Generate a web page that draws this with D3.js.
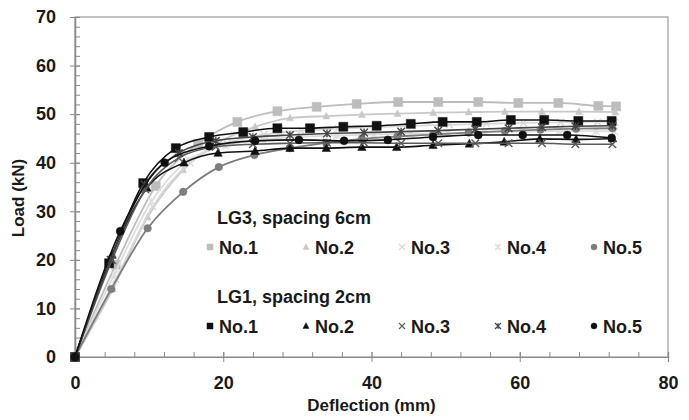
<!DOCTYPE html>
<html>
<head>
<meta charset="utf-8">
<script src="https://cdn.jsdelivr.net/npm/d3@7"></script>
<style>
  body { margin: 0; background: #fff; }
  svg text { font-family: "Liberation Sans", Arial, sans-serif; font-weight: bold; fill: #1a1a1a; }
</style>
</head>
<body>
<svg id="chart" width="689" height="420"></svg>
<script>
// load-deflection curves: [deflection mm, load kN]
var lg3No1 = [[0,0],[5.5,19],[10.9,35.2],[16.6,43.9],[21.9,48.4],[27.3,50.6],[32.6,51.5],[38,52.1],[43.6,52.5],[49,52.5],[54.4,52.5],[59.8,52.3],[65.2,52.3],[70.6,51.7],[73,51.6]];
var lg3No2 = [[0,0],[5.1,14],[9.8,28.8],[14.6,38.5],[19.5,44.3],[24.3,47.4],[29,49.2],[33.9,49.6],[38.7,49.9],[43.5,50.1],[48.3,50.3],[53.1,50.4],[58,50.5],[63,50.5],[68,50.5],[72.9,50.4]];
var lg3No3 = [[0,0],[5.5,16],[10.5,31],[15.5,40],[20.5,44],[25.5,45.8],[30.5,46.6],[35.5,47],[40.5,47.3],[45.5,47.6],[50.5,47.8],[55.5,48],[60.5,48.2],[65.5,48.3],[70.5,48.4],[72.8,48.4]];
var lg3No4 = [[0,0],[5.3,17],[10.3,32],[15.3,40.5],[20.3,43.5],[25.3,44.8],[30.3,45.3],[35.3,45.6],[40.3,45.8],[45.3,46],[50.3,46.1],[55.3,46.3],[60.3,46.4],[65.3,46.5],[70.3,46.5],[72.8,46.4]];
var lg3No5 = [[0,0],[4.9,14],[9.8,26.5],[14.6,34],[19.4,39.1],[24.2,41.6],[29,43],[33.9,44.1],[38.7,44.9],[43.5,45.4],[48.3,45.8],[53.1,46.2],[58,46.5],[62.8,46.8],[67.6,47],[72.5,47.1]];

var lg1No1 = [[0,0],[4.6,19.3],[9.2,35.8],[13.6,43],[18.1,45.3],[22.7,46.3],[27.3,47.1],[31.7,47.1],[36.2,47.4],[40.7,47.6],[45.3,48],[49.6,48.4],[54.2,48.4],[58.8,48.8],[63.3,48.8],[67.9,48.6],[72.4,48.6]];
var lg1No2 = [[0,0],[5,21],[9.7,34.8],[14.7,40],[19.3,42],[24.3,42.4],[29,43],[33.9,43],[38.7,43.2],[43.4,43.2],[48.3,43.6],[53.2,43.9],[57.9,44.3],[62.7,44.9],[67.6,44.8],[72.5,45]];
var lg1No3 = [[0,0],[5,20],[9.5,34.5],[14,41],[19,43.3],[24,43.8],[29,44],[34,44.1],[39,44.1],[44,44],[49,44],[54,44],[58.5,44],[63,44],[67.5,43.8],[72.5,43.8]];
var lg1No4 = [[0,0],[4.8,20],[9.4,35.5],[14,42],[19,44.5],[24,45.3],[29,45.7],[34,46],[39,46.2],[44,46.4],[49,46.6],[54,46.9],[58.5,47.1],[63,47.3],[67.5,47.5],[72.5,47.6]];
var lg1No5 = [[0,0],[6.1,25.9],[12.1,40],[18.1,43.4],[24.3,44.5],[30.2,44.7],[36.3,44.5],[42.2,44.7],[48.3,45.3],[54.4,45.7],[60.4,45.7],[66.4,45.7],[72.4,45.1]];

var seriesNames = ["No.1", "No.2", "No.3", "No.4", "No.5"];
var groupTitles = ["LG3, spacing 6cm", "LG1, spacing 2cm"];
var xTicks = [0, 20, 40, 60, 80];
var yTicks = [0, 10, 20, 30, 40, 50, 60, 70];

var width = 689, height = 420;
var svg = d3.select("#chart");

var x = d3.scaleLinear().domain([0, 80]).range([75, 668]);
var y = d3.scaleLinear().domain([0, 70]).range([357, 17]);

// marker shapes, size s = half width
function markerPath(shape, s) {
  if (shape == "square") return "M" + (-s) + "," + (-s) + "h" + 2*s + "v" + 2*s + "h" + (-2*s) + "Z";
  if (shape == "triangle") return "M0," + (-s*1.1) + "L" + s + "," + s*0.8 + "L" + (-s) + "," + s*0.8 + "Z";
  if (shape == "circle") return d3.symbol(d3.symbolCircle, Math.PI * s * s)();
  if (shape == "cross") return "M" + (-s) + "," + (-s) + "L" + s + "," + s + "M" + (-s) + "," + s + "L" + s + "," + (-s);
  // star: cross with a vertical bar
  return "M" + (-s) + "," + (-s) + "L" + s + "," + s + "M" + (-s) + "," + s + "L" + s + "," + (-s) + "M0," + (-s) + "V" + s;
}

var series = [
  {data: lg3No1, shape: "square",   color: "#bdbdbd", size: 4.5, group: 0},
  {data: lg3No2, shape: "triangle", color: "#c8c8c8", size: 3.5, group: 0},
  {data: lg3No3, shape: "cross",    color: "#d8d8d8", size: 3.5, group: 0},
  {data: lg3No4, shape: "star",     color: "#dedede", size: 3.5, group: 0},
  {data: lg3No5, shape: "circle",   color: "#7d7d7d", size: 3.8, group: 0},
  {data: lg1No1, shape: "square",   color: "#111",    size: 4.5, group: 1},
  {data: lg1No2, shape: "triangle", color: "#111",    size: 4.2, group: 1},
  {data: lg1No3, shape: "cross",    color: "#5a5a5a", size: 3.8, group: 1},
  {data: lg1No4, shape: "star",     color: "#444",    size: 3.8, group: 1},
  {data: lg1No5, shape: "circle",   color: "#111",    size: 4,   group: 1}
];

svg.append("rect").attr("width", width).attr("height", height).attr("fill", "#fff");

// plot frame
svg.append("rect")
  .attr("x", x(0)).attr("y", y(70))
  .attr("width", x(80) - x(0)).attr("height", y(0) - y(70))
  .attr("fill", "none").attr("stroke", "#9a9a9a").attr("stroke-width", 1.2);

// axes: minor ticks inside, major ticks crossing
var minorX = d3.range(0, 81, 4), minorY = d3.range(0, 71, 2);
function styleAxis(g) {
  g.selectAll("path").attr("stroke", "#8a8a8a").attr("stroke-width", 1.2);
  g.selectAll("line").attr("stroke", "#8a8a8a");
}
svg.append("g").attr("transform", "translate(0," + y(0) + ")")
  .call(d3.axisBottom(x).tickValues(minorX).tickSize(-5).tickFormat("")).call(styleAxis);
svg.append("g").attr("transform", "translate(0," + y(0) + ")")
  .call(d3.axisBottom(x).tickValues(xTicks).tickSize(-5).tickFormat("")).call(styleAxis);
svg.append("g").attr("transform", "translate(0," + y(0) + ")")
  .call(d3.axisBottom(x).tickValues(xTicks).tickSize(5).tickPadding(14)).call(styleAxis)
  .call(function(g) { g.selectAll("text").attr("font-size", 18).attr("fill", "#1a1a1a"); });

svg.append("g").attr("transform", "translate(" + x(0) + ",0)")
  .call(d3.axisLeft(y).tickValues(minorY).tickSize(-5).tickFormat("")).call(styleAxis);
svg.append("g").attr("transform", "translate(" + x(0) + ",0)")
  .call(d3.axisLeft(y).tickValues(yTicks).tickSize(-5).tickFormat("")).call(styleAxis);
svg.append("g").attr("transform", "translate(" + x(0) + ",0)")
  .call(d3.axisLeft(y).tickValues(yTicks).tickSize(5).tickPadding(14)).call(styleAxis)
  .call(function(g) { g.selectAll("text").attr("font-size", 18).attr("fill", "#1a1a1a"); });
svg.selectAll(".domain").attr("fill", "none");

// axis titles
svg.append("text").attr("x", (x(0) + x(80)) / 2).attr("y", 411)
  .attr("text-anchor", "middle").attr("font-size", 17).text("Deflection (mm)");
svg.append("text").attr("transform", "translate(24,198) rotate(-90)")
  .attr("text-anchor", "middle").attr("font-size", 17).text("Load (kN)");

// curves (light group first, black on top)
var line = d3.line().x(function(d) { return x(d[0]); }).y(function(d) { return y(d[1]); })
  .curve(d3.curveMonotoneX);

series.forEach(function(s) {
  var g = svg.append("g");
  g.append("path").datum(s.data).attr("d", line)
    .attr("fill", "none").attr("stroke", s.color).attr("stroke-width", s.group ? 1.6 : 1.8);
  var filled = s.shape != "cross" && s.shape != "star";
  g.selectAll("path.m").data(s.data).enter().append("path").attr("class", "m")
    .attr("transform", function(d) { return "translate(" + x(d[0]) + "," + y(d[1]) + ")"; })
    .attr("d", markerPath(s.shape, s.size))
    .attr("fill", filled ? s.color : "none")
    .attr("stroke", s.color).attr("stroke-width", filled ? 0.5 : 1.4);
});

// legend
var legend = svg.append("g");
groupTitles.forEach(function(t, gi) {
  var rowY = gi == 0 ? 247 : 326;
  legend.append("text").attr("x", 217).attr("y", rowY - 29 + 6).attr("font-size", 18).text(t);
  var items = series.filter(function(s) { return s.group == gi; });
  var it = legend.selectAll("g.row" + gi).data(items).enter().append("g")
    .attr("transform", function(d, i) { return "translate(" + (210 + i * 96) + "," + rowY + ")"; });
  it.append("path")
    .attr("d", function(d) { return markerPath(d.shape, 3); })
    .attr("fill", function(d) { return (d.shape == "cross" || d.shape == "star") ? "none" : d.color; })
    .attr("stroke", function(d) { return d.color; })
    .attr("stroke-width", function(d) { return (d.shape == "cross" || d.shape == "star") ? 1.1 : 0.5; });
  it.append("text").attr("x", 9).attr("y", 7).attr("font-size", 18)
    .text(function(d, i) { return seriesNames[i]; });
});
</script>
</body>
</html>
